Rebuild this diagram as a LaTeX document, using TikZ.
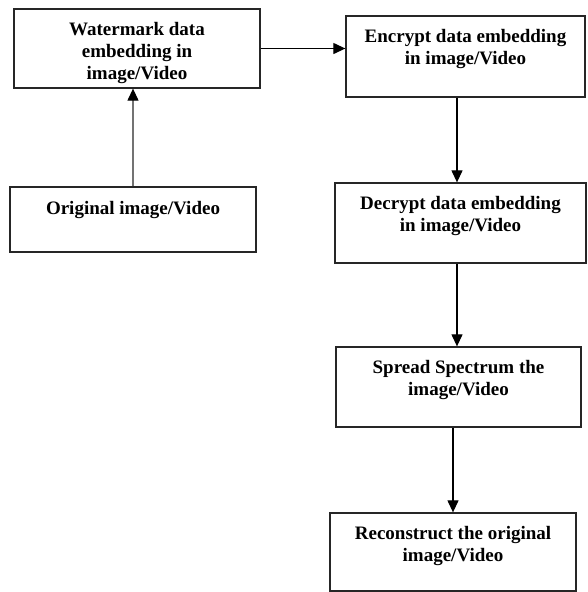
\documentclass[tikz,border=0pt]{standalone}
\usepackage{fontspec}
\setmainfont{Liberation Serif}
\usetikzlibrary{arrows.meta, positioning}
\tikzset{
    box/.style={rectangle, draw=black!85, line width=1.3pt, fill=white, inner sep=0pt},
    boxtext/.style={align=center, inner sep=0pt, font=\fontsize{19}{22}\selectfont\bfseries},
    arr/.style={-{Triangle[length=12pt, width=11pt]}, line width=1.2pt},
}

\begin{document}
\begin{tikzpicture}[x=1pt, y=-1pt]

\useasboundingbox (0,0) rectangle (587,592);

% ── Left column ──
\node[box, minimum width=246pt, minimum height=79pt] (wm) at (137, 48.5) {};
\node[boxtext, below=13.5pt of wm.north] (wmt) {Watermark data\\embedding in\\image/Video};

\node[box, minimum width=246pt, minimum height=65pt] (orig) at (133, 219.5) {};
\node[boxtext, below=15pt of orig.north] (origt) {Original image/Video};

% ── Right column ──
\node[box, minimum width=239pt, minimum height=81pt] (enc) at (465.5, 56.5) {};
\node[boxtext, below=13.5pt of enc.north] (enct) {Encrypt data embedding\\in image/Video};

\node[box, minimum width=251pt, minimum height=80pt] (dec) at (460.5, 223) {};
\node[boxtext, below=13.5pt of dec.north] (dect) {Decrypt data embedding\\in image/Video};

\node[box, minimum width=245pt, minimum height=80pt] (spr) at (458.5, 387) {};
\node[boxtext, below=14pt of spr.north] (sprt) {Spread Spectrum the\\image/Video};

\node[box, minimum width=246pt, minimum height=78pt] (rec) at (453, 552) {};
\node[boxtext, below=13.5pt of rec.north] (rect) {Reconstruct the original\\image/Video};

% ── Connections ──
\draw[arr, draw=black!55, -{Triangle[length=12pt, width=11pt, color=black]}] (orig.north) -- (orig.north |- wm.south);
\draw[arr] (wm.east) -- (enc.west |- wm.east);

\draw[arr] ([xshift=-3.5pt]dec.north |- enc.south) -- ([xshift=-3.5pt]dec.north);
\draw[arr] ([xshift=-1.5pt]spr.north |- dec.south) -- ([xshift=-1.5pt]spr.north);
\draw[arr] (rec.north |- spr.south) -- (rec.north);

\end{tikzpicture}
\end{document}
